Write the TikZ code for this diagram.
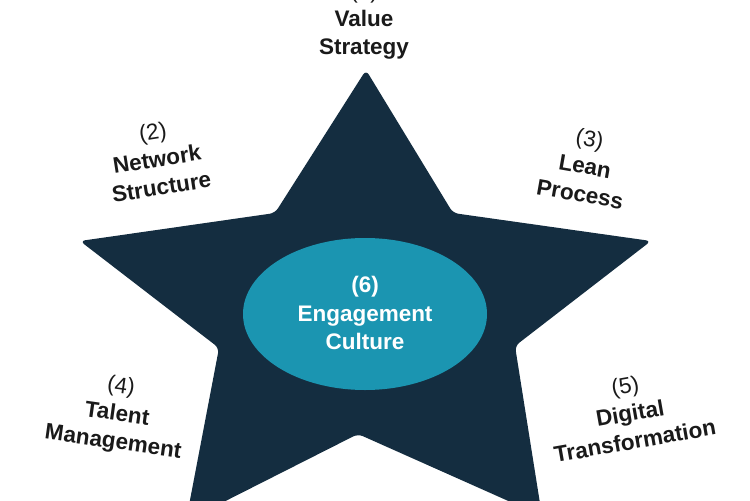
\documentclass[tikz,border=0pt]{standalone}
\usepackage{fontspec}
\setmainfont{Liberation Sans}
\usetikzlibrary{shapes.geometric}
\definecolor{starnavy}{HTML}{142D40}
\definecolor{ellteal}{HTML}{1B95B1}
\definecolor{labelgray}{HTML}{1A1A1A}
\newlength{\px}
\setlength{\px}{0.02cm}
\tikzset{
  starshape/.style={fill=starnavy, rounded corners=3pt},
  coreell/.style={ellipse, fill=ellteal, minimum width=244\px, minimum height=152\px, inner sep=0pt},
  armlabel/.style={align=center, text=labelgray, font=\fontsize{12.8}{16}\selectfont},
  corelabel/.style={align=center, text=white, font=\fontsize{12.8}{16}\selectfont\bfseries}
}
\begin{document}
\begin{tikzpicture}[x=0.02cm, y=-0.02cm]
\useasboundingbox (0,0) rectangle (750,500);
\clip (0,0) rectangle (750,500);
\fill[starshape] (366,70) -- (453,213) -- (651,241) -- (515,346) -- (542,516)
  -- (358,434) -- (186,521) -- (219,348) -- (80,241) -- (275,213) -- cycle;
\node[coreell] (core) at (365,314) {};
\node[corelabel] (corelbl) at (365,313) {(6)\\Engagement\\Culture};
\node[armlabel] (value) at (364,21) {(1)\\\textbf{Value}\\\textbf{Strategy}};
\node[armlabel, rotate=9] (network) at (157,159) {(2)\\\textbf{Network}\\\textbf{Structure}};
\node[armlabel, rotate=-10] (lean) at (585,166) {(3)\\\textbf{Lean}\\\textbf{Process}};
\node[armlabel, rotate=-8] (talent) at (117,415) {(4)\\\textbf{Talent}\\\textbf{Management}};
\node[armlabel, rotate=10] (digital) at (630,413) {(5)\\\textbf{Digital}\\\textbf{Transformation}};
\end{tikzpicture}
\end{document}
